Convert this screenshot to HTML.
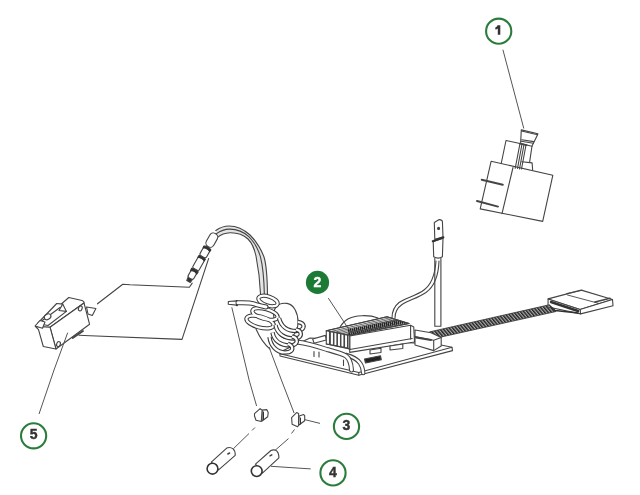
<!DOCTYPE html>
<html><head><meta charset="utf-8">
<style>
html,body{margin:0;padding:0;background:#fff;width:640px;height:495px;overflow:hidden}
svg{display:block}
.c{fill:#fff;stroke:#2c7c3c;stroke-width:2.1}
.t{font-family:"Liberation Sans",sans-serif;font-weight:bold;font-size:14px;fill:#333;stroke:#333;stroke-width:0.4;text-anchor:middle}
.l{fill:none;stroke:#444;stroke-width:1.1;stroke-linecap:round;stroke-linejoin:round}
.w{fill:#fff;stroke:#444;stroke-width:1.1;stroke-linecap:round;stroke-linejoin:round}
.ld{fill:none;stroke:#555;stroke-width:1}
</style></head><body>
<svg width="640" height="495" viewBox="0 0 640 495">
<filter id="bl" x="-5%" y="-5%" width="110%" height="110%"><feGaussianBlur stdDeviation="0.35"/></filter>
<g filter="url(#bl)">
<!-- ===== part 1 solenoid ===== -->
<g class="l">
<!-- body -->
<path class="w" d="M491.1 161.3 L552.8 175.3 L542.7 221.4 L480.2 208.9 Z"/>
<path d="M513 167.5 L502 213.6"/>
<!-- back box -->
<path d="M501.2 163.5 L506 140.5 L520 143.5"/>
<!-- shaft -->
<path d="M520 143.5 L515.2 168.3 M532 146 L529.7 161.7"/>
<path d="M522 144 L517.5 168.5 M524 144.5 L519.5 169 M526 145 L521.5 169"/>
<!-- small block -->
<path d="M521.8 161.7 L532.1 162.9 L532.6 169.5"/>
<!-- cap -->
<path class="w" d="M521.3 129.9 L537.9 133.8 L537.2 135.6 L531.9 146.2 L520.6 143.5 Z"/>
<path d="M521.5 131 L537.5 134.8"/>
<path d="M521.7 139.8 L533.7 141.6 M521.3 141.2 L533.3 143.3"/>
<path d="M519.9 143.7 L526.6 145.1" style="stroke-width:1.8"/>
<!-- pins -->
<path d="M481.7 179.7 L502.8 184.7" style="stroke-width:2"/>
<path d="M477 201 L498 206.6" style="stroke-width:2"/>
</g>

<!-- ===== sensor ===== -->
<g class="l">
<path class="w" d="M434.8 258.4 L434.8 326.3 L440.9 326.3 L440.9 258.4"/>
<path d="M436 261 C435 275 432 284 424 290 C416 296 405 298 399 302.5 C394 306.5 392 312 392 318"/>
<path d="M439 261 C438.5 276 435 286 426 292.5 C418 298 408 300.5 402 304.5 C397 308 395 313 395 318"/>
<path class="w" d="M434.8 239.3 L434.3 222.4 L439.2 219.6 Q442.2 219.8 442.4 221.5 L443 237.1 Z"/>
<circle cx="438.6" cy="228.4" r="1" style="fill:#333"/>
<path class="w" d="M433.2 241.4 L443 238.2 L442.4 256.7 Q438.1 259.5 433.7 256.7 Z"/>
<path d="M432.8 241.2 L443.3 237.4" style="stroke:#333;stroke-width:2.2"/>
</g>

<!-- ===== ribbon cable ===== -->
<g class="l">
<path d="M430 331.8 L547 305.3 L549 304.5 L556 311.5 L440.3 337.2 Z" style="fill:url(#rib);stroke:#333;stroke-width:0.8"/>
<!-- connector -->
<path class="w" d="M548.1 298.9 L581.3 290.1 L612.5 299.5 L580 309.5 Z"/>
<path class="w" d="M580 309.5 L612.5 299.5 L613 305.75 L580.6 313.9 Z"/>
<path class="w" d="M548.1 298.9 L580 309.5 L580.6 313.9 L548 307 Z"/>
<path d="M551 302 L578 311" style="stroke:#333;stroke-width:2.4"/>
<path d="M549 305 L555 310.5 L578 313" style="stroke:#333;stroke-width:1.6"/>
<path d="M566.5 293.6 L581.3 290.4 M567.5 295 L598.5 303.3" style="stroke-width:0.9"/>
<path d="M595 302 L610 298.25" style="stroke-width:1.6"/>
</g>

<!-- ===== board ===== -->
<defs>
<pattern id="fins" width="2.2" height="8" patternUnits="userSpaceOnUse" patternTransform="rotate(-12)">
<rect width="2.2" height="8" fill="#fff"/><rect width="1.1" height="8" fill="#333"/>
</pattern>
<pattern id="rib" width="2.6" height="8" patternUnits="userSpaceOnUse" patternTransform="rotate(-40)">
<rect width="2.6" height="8" fill="#aaa"/><rect width="1.4" height="8" fill="#222"/>
</pattern>
</defs>
<g class="l">
<!-- board plate -->
<path class="w" d="M280 352 L310 338 L414 343 L441 345 L452 347.3 L452.5 350.6 L358.8 375.3 L280 356 Z"/>
<path d="M280 353.8 L358.8 372.5 L452 347.3"/>
<path d="M358.8 372.5 L358.8 375.3"/>
<!-- pins under board -->
<path d="M314 351.5 L314 356.5 M319 352 L319 357 M343.5 360 L343.5 365.5"/>
<!-- capacitor arc -->
<path d="M338.8 329 C344 320 350 316 362 315.7 C368 315.5 373 316 378 318"/>
<!-- small block left of heatsink -->
<path class="w" d="M312.7 339 L325.4 335.4 L326.3 340 L314 343.2 Z"/>
<!-- heatsink body -->
<path class="w" d="M349.7 336 L410.6 325.3 L413.75 326.9 L414.5 342 L349.7 352.4 Z"/>
<path d="M349.7 349.5 L412.2 338.5"/>
<path d="M410.6 325.3 L410.6 339"/>
<!-- fin top surface -->
<clipPath id="fc"><path d="M326.3 330.8 L387 316.7 L409 323.5 L349.7 335.3 Z"/></clipPath>
<path class="w" d="M326.3 330.8 L387 316.7 L409 323.5 L349.7 335.3 Z"/>
<g clip-path="url(#fc)">
<path d="M330.6 331.6 L400.3 315.4 M334.2 332.3 L403.9 316.1 M337.7 333.0 L407.4 316.8 M341.2 333.7 L410.9 317.5 M344.8 334.4 L414.5 318.2 M348.3 335.0 L418.0 318.8" style="stroke:#555;stroke-width:0.9"/>
<path d="M349.7 335.6 L348.5 329.6 M351.7 335.2 L350.5 329.2 M353.7 334.8 L352.5 328.8 M355.6 334.4 L354.4 328.4 M357.6 334.0 L356.4 328.0 M359.6 333.6 L358.4 327.6 M361.6 333.2 L360.4 327.2 M363.5 332.8 L362.3 326.8 M365.5 332.4 L364.3 326.4 M367.5 332.0 L366.3 326.0 M369.5 331.6 L368.3 325.6 M371.4 331.2 L370.2 325.2 M373.4 330.8 L372.2 324.8 M375.4 330.4 L374.2 324.4 M377.4 330.0 L376.2 324.0 M379.4 329.6 L378.2 323.6 M381.3 329.2 L380.1 323.2 M383.3 328.8 L382.1 322.8 M385.3 328.4 L384.1 322.4 M387.3 328.0 L386.1 322.0 M389.2 327.6 L388.0 321.6 M391.2 327.2 L390.0 321.2 M393.2 326.8 L392.0 320.8 M395.2 326.4 L394.0 320.4 M397.1 326.0 L395.9 320.0 M399.1 325.6 L397.9 319.6 M401.1 325.2 L399.9 319.2 M403.1 324.8 L401.9 318.8 M405.0 324.4 L403.8 318.4 M407.0 324.0 L405.8 318.0 M409.0 323.6 L407.8 317.6" style="stroke:#222;stroke-width:1.3"/>
</g>
<path d="M326.3 330.8 L387 316.7 L409 323.5 L349.7 335.3 Z" style="fill:none;stroke:#444"/>
<!-- front fins -->
<path class="w" d="M326.3 330.8 L329.5 331.5 L329.5 344.5 L326.3 344 Z"/>
<path class="w" d="M330.3 331.6 L333.5 332.3 L333.5 345.3 L330.3 344.7 Z"/>
<path class="w" d="M333.9 332.3 L337 333 L337 346 L333.9 345.4 Z"/>
<path class="w" d="M337.4 333 L340.5 333.7 L340.5 346.7 L337.4 346.1 Z"/>
<path class="w" d="M340.9 333.7 L344 334.4 L344 347.4 L340.9 346.8 Z"/>
<path class="w" d="M344.5 334.4 L347.6 335.1 L347.6 348.1 L344.5 347.5 Z"/>
<path class="w" d="M348 335 L349.7 335.4 L349.7 348.9 L348 348.5 Z"/>
<path d="M326.3 344 L349.7 348.9"/>
<!-- pads -->
<path class="w" d="M370 350 L381 348.2 L381 352.5 L370 354 Z"/>
<path class="w" d="M390 346 L402.8 344 L402.8 348.5 L390 350 Z"/>
<!-- connector on board -->
<path class="w" d="M415 330 L431 332.8 L441.2 337.5 L441.2 346 L433.7 350.6 L415 345 Z"/>
<path d="M415 336.6 L433.7 340.3 L441.2 337.5 M433.7 340.3 L433.7 350.6"/>
<path d="M416 337.5 L431 340" style="stroke-width:1.8"/>
<!-- chip -->
<path d="M364.5 359 L380.5 355.8 L381.3 359.8 L365.5 363 Z" style="fill:#222"/>
<!-- thick bundle to board -->
<path d="M346 355 C352 356.5 357 359 360 363 C362.5 366.5 363 369 363.2 373" style="fill:none;stroke:#444;stroke-width:4.4"/>
<path d="M346 355 C352 356.5 357 359 360 363 C362.5 366.5 363 369 363.2 373" style="fill:none;stroke:#fff;stroke-width:2.3"/>
<path d="M297 342 C305 343 315 345.5 327 349.5 C336 352 342 353.5 346 356 C349.5 358.5 351 362 351.5 370" style="fill:none;stroke:#444;stroke-width:5"/>
<path d="M297 342 C305 343 315 345.5 327 349.5 C336 352 342 353.5 346 356 C349.5 358.5 351 362 351.5 370" style="fill:none;stroke:#fff;stroke-width:2.9"/>
</g>

<!-- ===== wires & coil ===== -->
<g class="l">
<!-- bundle arc -->
<path d="M215.8 230.5 L217.1 229.6 L218.3 228.9 L219.6 228.2 L220.8 227.6 L222.1 227.1 L223.4 226.7 L224.7 226.4 L226.1 226.2 L227.5 226.0 L229.0 226.0 L231.1 226.1 L233.3 226.4 L235.5 226.9 L237.7 227.6 L239.9 228.4 L242.0 229.5 L244.1 230.6 L246.2 232.0 L248.1 233.4 L250.0 235.0 L251.8 236.9 L253.5 238.8 L255.1 240.9 L256.7 243.0 L258.1 245.2 L259.5 247.5 L260.8 249.9 L262.0 252.2 L263.0 254.6 L264.0 257.0 L264.7 259.5 L265.3 262.4 L265.8 265.5 L266.3 268.9 L266.6 272.6 L266.9 276.6 L267.1 280.8 L267.3 285.3 L267.4 290.0 L267.5 295.0 L260.6 295.0 L260.4 290.5 L260.1 286.1 L259.7 281.9 L259.3 277.7 L258.8 273.6 L258.3 269.7 L257.8 266.0 L257.2 262.5 L256.6 259.1 L256.0 256.0 L255.5 253.9 L255.0 251.9 L254.4 250.0 L253.7 248.1 L252.9 246.4 L252.1 244.7 L251.2 243.1 L250.2 241.6 L249.2 240.3 L248.0 239.0 L246.5 237.7 L244.9 236.6 L243.2 235.6 L241.5 234.8 L239.8 234.1 L237.9 233.6 L236.0 233.2 L234.1 232.9 L232.1 232.8 L230.0 232.8 L228.5 232.9 L227.1 233.1 L225.8 233.3 L224.4 233.7 L223.2 234.1 L222.0 234.6 L220.8 235.2 L219.6 235.8 L218.5 236.6 L217.4 237.4 Z" style="fill:#e4e4e4;stroke:none"/>
<path d="M215.8 230.5 C220.0 227.5 224.0 226.0 229.0 226.0 C236.0 226.0 244.0 229.5 250.0 235.0 C256.0 241.0 261.0 249.0 264.0 257.0 C266.5 265.0 267.3 278.0 267.5 295.0"/>
<path d="M216.5 233.6 C220.5 230.7 224.5 229.2 229.5 229.1 C236.5 229.0 243.6 231.8 249.1 236.8 C254.2 241.9 258.1 249.0 260.4 256.6 C262.7 265.4 264.0 278.9 264.4 295.0"/>
<path d="M217.4 237.4 C221.0 234.5 225.0 233.0 230.0 232.8 C237.0 232.6 243.0 234.5 248.0 239.0 C252.0 243.0 254.5 249.0 256.0 256.0 C258.0 266.0 260.0 280.0 260.6 295.0"/>
<!-- connector chain -->
<g transform="translate(188.5 281.5) rotate(-60.6)">
<path d="M0 -2 L4 -2.5 L4 2.5 L0 2 Z" style="fill:#333"/>
<rect class="w" x="3.5" y="-3.2" width="8.5" height="6.4" rx="2"/>
<path d="M10.5 -3.5 Q13 0 10.5 3.5 L13 3.8 Q15.5 0 13 -3.8 Z" style="fill:#333;stroke:#333"/>
<rect class="w" x="14" y="-3.6" width="12.5" height="7.2" rx="1.5"/>
<path d="M25.5 -3.6 Q28 0 25.5 3.6 L27.5 3.8 Q30 0 27.5 -3.8 Z" style="fill:#333;stroke:#333"/>
<rect class="w" x="28.5" y="-3.7" width="9" height="7.4" rx="2"/>
<path d="M36.5 -3.8 Q39 0 36.5 3.8 L38.5 4 Q41 0 38.5 -4 Z" style="fill:#333;stroke:#333"/>
<rect class="w" x="40" y="-4.2" width="15" height="8.4" rx="4"/>
</g>
<!-- switch wires -->
<path d="M97.5 303.8 L122.8 284.2 L130 284.8 L189.4 287.2 L192.2 283.1"/>
<path d="M79 335.3 L90 335.7 L182 339.4 L208.6 258.6"/>
<!-- wire end -->
<path d="M228.3 301.5 L236.5 300.9 L236.5 305.1 L228.3 304.2 Z" class="w"/>
<path d="M237 300.8 L237 305.3" style="stroke:#222;stroke-width:1.8"/>
<!-- coil: back oval -->
<path class="w" d="M274 319 C272 308 278 302 287 303.4 C294 304.5 298 313 298 322 C298 332 292 340 284 338 C278 336 275 328 274 319 Z"/>
<path d="M256 329 C260 338 265 345 270 349"/>
<!-- tubes -->
<g style="fill:none;stroke:#3a3a3a;stroke-width:4.2">
<ellipse cx="268" cy="301" rx="10" ry="4.5" transform="rotate(18 268 301)"/>
<ellipse cx="265" cy="314" rx="13" ry="5" transform="rotate(15 265 314)"/>
<ellipse cx="260" cy="322" rx="14" ry="5.5" transform="rotate(15 260 322)"/>
</g>
<g style="fill:none;stroke:#fff;stroke-width:2.2">
<ellipse cx="268" cy="301" rx="10" ry="4.5" transform="rotate(18 268 301)"/>
<ellipse cx="265" cy="314" rx="13" ry="5" transform="rotate(15 265 314)"/>
<ellipse cx="260" cy="322" rx="14" ry="5.5" transform="rotate(15 260 322)"/>
</g>
<path d="M238 302.8 C244 302.6 250 302.6 254 303.8 C258 305 262 306 266 307" style="fill:none;stroke:#3a3a3a;stroke-width:5"/>
<path d="M237.8 302.8 C244 302.6 250 302.6 254 303.8 C258 305 262 306 266 307" style="fill:none;stroke:#fff;stroke-width:2.9"/>
<path d="M279 318 C281 326 287 331 296 331 C302 331 304 328 303.5 325.5 C303 323.5 301 322.5 298 322" style="fill:none;stroke:#3a3a3a;stroke-width:4.4;stroke-linecap:butt"/>
<path d="M279 318 C281 326 287 331 296 331 C302 331 304 328 303.5 325.5 C303 323.5 301 322.5 298 322" style="fill:none;stroke:#fff;stroke-width:2.2;stroke-linecap:butt"/>
<path d="M275.5 325 C277 334 285 338.5 294 338.5 C300 338.5 301.5 335.5 300.5 332.5 C300 331 298.5 330 296 329.5" style="fill:none;stroke:#3a3a3a;stroke-width:4.4;stroke-linecap:butt"/>
<path d="M275.5 325 C277 334 285 338.5 294 338.5 C300 338.5 301.5 335.5 300.5 332.5 C300 331 298.5 330 296 329.5" style="fill:none;stroke:#fff;stroke-width:2.2;stroke-linecap:butt"/>
<path d="M272.5 332.5 C274 341 281 345.5 290 345.5 C296 345.5 297.5 342 296.5 339.5 C296 338 294.5 337 292 336.5" style="fill:none;stroke:#3a3a3a;stroke-width:4.4;stroke-linecap:butt"/>
<path d="M272.5 332.5 C274 341 281 345.5 290 345.5 C296 345.5 297.5 342 296.5 339.5 C296 338 294.5 337 292 336.5" style="fill:none;stroke:#fff;stroke-width:2.2;stroke-linecap:butt"/>
<path d="M269.5 337 C270.5 346 277 352.5 285 352.5 C291 352.5 293 350 292 347 C291.5 345.5 290 344.5 288 344" style="fill:none;stroke:#3a3a3a;stroke-width:4.4;stroke-linecap:butt"/>
<path d="M269.5 337 C270.5 346 277 352.5 285 352.5 C291 352.5 293 350 292 347 C291.5 345.5 290 344.5 288 344" style="fill:none;stroke:#fff;stroke-width:2.2;stroke-linecap:butt"/>

</g>

<!-- ===== switch ===== -->
<g class="l">
<path class="w" d="M86.5 307 L95.9 308.5 L92.3 315.5 L88 314 Z"/>
<path class="w" d="M35.5 326.5 L68.8 297.5 L82 300.5 Q84.5 301.5 84 303 L50 327.2 Z"/>
<path class="w" d="M50 327.2 L84 303 L89.6 324.3 L56 349 Z"/>
<path class="w" d="M35.5 326.5 L50 327.2 L56 349 L43.3 346.5 L38.5 329.6 Z"/>
<ellipse cx="58.5" cy="344.1" rx="1.8" ry="2.6" transform="rotate(20 58.5 344.1)"/>
<ellipse cx="80.3" cy="308.4" rx="1.8" ry="2.6" transform="rotate(20 80.3 308.4)"/>
<path class="w" d="M37.5 323.5 L56.7 303.5 L62.7 304.1 L66.4 311.4 L48 325.5 Z"/>
<path d="M62.7 304.1 L59 310.5 L66.4 311.4"/>
<path d="M41 321.5 L60 307.5"/>
<ellipse class="w" cx="47.6" cy="316.8" rx="3.5" ry="2.6" transform="rotate(-30 47.6 316.8)"/>
<path class="w" d="M35 326 L40 320.5 L45 322 L42.5 328.3 Z"/>
<path d="M72.7 338 L83 331" style="stroke-width:1.8"/>
</g>

<!-- ===== clips and tubes ===== -->
<g class="l">
<g style="stroke-width:1.5;stroke:#333">
<path class="w" d="M262.1 410.1 L266.7 409.6 L268.2 412.6 L267.7 416.7 L262.1 421 Z"/>
<path class="w" d="M254.5 413.6 L260.1 408.6 L262.1 410.1 L261.3 421.5 L256 420.2 L254.5 416 Z"/>
<path d="M263.5 412 L263.5 419.5" style="stroke-width:1"/>
<path class="w" d="M299.1 416.1 L303.7 414.6 L304.7 415.6 L304.7 420.7 L298.6 425.2 Z"/>
<path class="w" d="M291.6 417.6 L296.6 412.6 L298.6 413.6 L298.6 425.2 L297.6 426.7 L292.1 424.2 Z"/>
<path d="M300.5 418 L300.5 424" style="stroke-width:1"/>
</g>
<!-- tube left -->
<path class="w" d="M211.3 462.2 L226.7 448.1 Q230 446.5 233.1 448.9 Q235.5 451 235.2 455.4 L218.6 469.9 Z"/>
<circle cx="212.5" cy="468.7" r="5.4" style="fill:#fff;stroke:#333;stroke-width:1.6"/>
<path d="M227.8 454 L229.6 453" style="stroke-width:1.5"/>
<!-- tube right -->
<path class="w" d="M255.5 464.2 L270.9 450.5 Q273 449.5 275.3 450.1 Q279 452 278.9 457.8 L262.4 473.1 Z"/>
<circle cx="256.7" cy="471.1" r="5.4" style="fill:#fff;stroke:#333;stroke-width:1.6"/>
<path d="M270 455.8 L271.8 454.8" style="stroke-width:1.5"/>
</g>

<!-- ===== leaders ===== -->
<g class="ld">
<path d="M502.9 49.7 L523.8 128.5"/>
<path d="M328.3 298.1 L351.5 333.4"/>
<path d="M304.7 419.6 L320 423.4"/>
<path d="M271 466.3 L310.7 468.9"/>
<path d="M54 370 L67.7 332.7"/>
<path d="M39 414 L54 370"/>
<path d="M249.1 380 L256.6 406"/>
<path d="M231.8 307.3 L249.1 380"/>
<path d="M281.4 380 L294.1 413"/>
<path d="M269 347 L281.4 380"/>
<path d="M255 427.5 L252 430.5 M249 433.5 L233.3 448.8"/>
<path d="M294.5 429.5 L291.5 433.5 M288.5 438.6 L275.3 450.1"/>
</g>

</g>
<g filter="url(#bl)">
<!-- callouts -->
<circle class="c" cx="498.7" cy="31.2" r="12.6"/>
<path d="M497.5 25.2 L500.3 25.2 L500.3 34.8 L497.8 34.8 L497.8 28.5 Q496.8 29.3 495.3 29.6 L495.3 27.6 Q497 27 497.5 25.2 Z" fill="#333"/>
<circle cx="317.5" cy="282.4" r="11.6" fill="#1c7a36"/>
<text class="t" x="317.5" y="287" style="fill:#fff;stroke:#fff">2</text>
<circle class="c" cx="346.5" cy="426.4" r="12.6"/>
<text class="t" x="346.5" y="430.0">3</text>
<circle class="c" cx="333" cy="472.9" r="12.6"/>
<text class="t" x="333" y="476.5">4</text>
<circle class="c" cx="33.6" cy="435.8" r="12.6"/>
<text class="t" x="33.6" y="439.4">5</text>
</g>
</svg>
</body></html>
